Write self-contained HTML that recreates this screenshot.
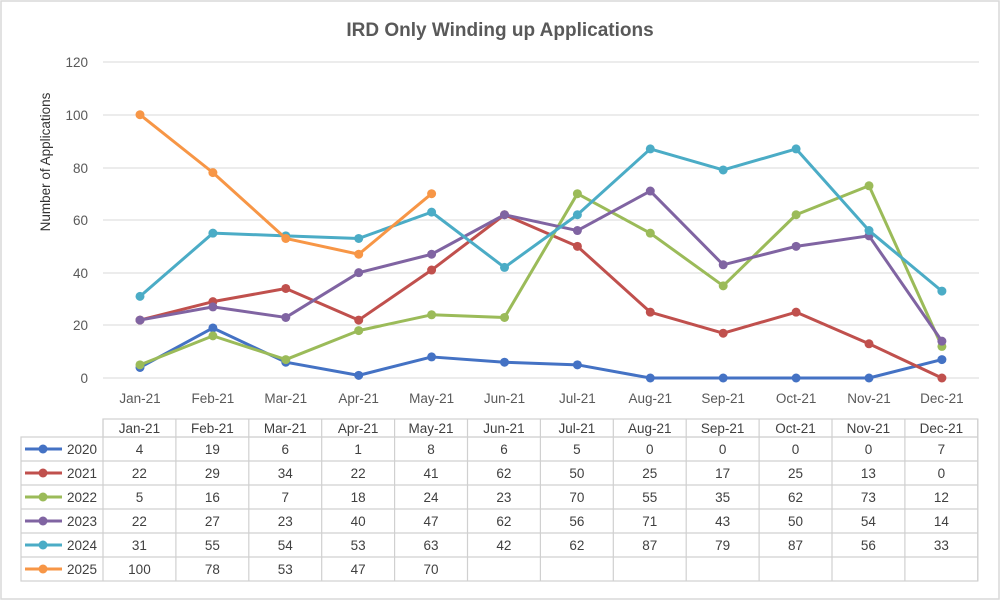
<!DOCTYPE html>
<html><head><style>body{margin:0;background:#fff}svg{display:block}</style></head><body>
<svg width="1000" height="600" xmlns="http://www.w3.org/2000/svg" font-family="Liberation Sans, sans-serif">
<rect x="1" y="1" width="998" height="598" fill="#fff" stroke="#d9d9d9" stroke-width="1.5"/>
<text x="500" y="36" text-anchor="middle" font-size="19" font-weight="bold" fill="#595959">IRD Only Winding up Applications</text>
<text transform="translate(50,162) rotate(-90)" text-anchor="middle" font-size="13.5" fill="#333">Number of Applications</text>
<g stroke="#d9d9d9" stroke-width="1">
<line x1="103" x2="979" y1="62" y2="62"/><line x1="103" x2="979" y1="115" y2="115"/><line x1="103" x2="979" y1="168" y2="168"/><line x1="103" x2="979" y1="220" y2="220"/><line x1="103" x2="979" y1="273" y2="273"/><line x1="103" x2="979" y1="325" y2="325"/><line x1="103" x2="979" y1="378" y2="378"/>
</g>
<g font-size="13.5" fill="#595959" text-anchor="end">
<text x="88" y="67">120</text><text x="88" y="120">100</text><text x="88" y="173">80</text><text x="88" y="225">60</text><text x="88" y="278">40</text><text x="88" y="330">20</text><text x="88" y="383">0</text>
</g>
<g id="plot"></g>
<g id="tbl" font-size="13.5" fill="#404040" text-anchor="middle"></g>
</svg>
<script>
var X=function(i){return 140+i*72.9}, Y=function(v){return 378-v*2.633};
var S=[["2020","#4472c4",[4,19,6,1,8,6,5,0,0,0,0,7]],["2021","#c0504d",[22,29,34,22,41,62,50,25,17,25,13,0]],["2022","#9bbb59",[5,16,7,18,24,23,70,55,35,62,73,12]],["2023","#8064a2",[22,27,23,40,47,62,56,71,43,50,54,14]],["2024","#4bacc6",[31,55,54,53,63,42,62,87,79,87,56,33]],["2025","#f79646",[100,78,53,47,70]]];
var M=["Jan-21","Feb-21","Mar-21","Apr-21","May-21","Jun-21","Jul-21","Aug-21","Sep-21","Oct-21","Nov-21","Dec-21"];
var h="";
S.forEach(function(s){var c=s[1],d=s[2];h+='<polyline fill="none" stroke="'+c+'" stroke-width="3" stroke-linejoin="round" points="'+d.map(function(v,i){return X(i)+","+Y(v)}).join(" ")+'"/>';d.forEach(function(v,i){h+='<circle cx="'+X(i)+'" cy="'+Y(v)+'" r="4.5" fill="'+c+'"/>'});});
M.forEach(function(m,i){h+='<text x="'+X(i)+'" y="403" text-anchor="middle" font-size="13.5" fill="#595959">'+m+'</text>'});
document.getElementById("plot").innerHTML=h;
var t="",L=103,W=72.9,T=419;
t+='<g stroke="#d0d0d0" stroke-width="1.2" fill="none"><rect x="'+L+'" y="'+T+'" width="'+(W*12)+'" height="18"/><rect x="21" y="437" width="'+(L+W*12-21)+'" height="144"/>';
for(var i=0;i<=12;i++)t+='<line x1="'+(L+i*W)+'" x2="'+(L+i*W)+'" y1="'+T+'" y2="581"/>';
for(var r=1;r<6;r++)t+='<line x1="21" x2="'+(L+W*12)+'" y1="'+(437+r*24)+'" y2="'+(437+r*24)+'"/>';
t+="</g>";
M.forEach(function(m,i){t+='<text x="'+(L+W*i+W/2)+'" y="433">'+m+'</text>'});
S.forEach(function(s,r){var n=s[0],c=s[1],d=s[2],y=437+r*24+12;t+='<line x1="25" x2="62" y1="'+y+'" y2="'+y+'" stroke="'+c+'" stroke-width="3"/><circle cx="43" cy="'+y+'" r="4.5" fill="'+c+'"/><text x="82" y="'+(y+5)+'">'+n+'</text>';d.forEach(function(v,i){t+='<text x="'+(L+W*i+W/2)+'" y="'+(y+5)+'">'+v+'</text>'});});
document.getElementById("tbl").innerHTML=t;
</script>
</body></html>
